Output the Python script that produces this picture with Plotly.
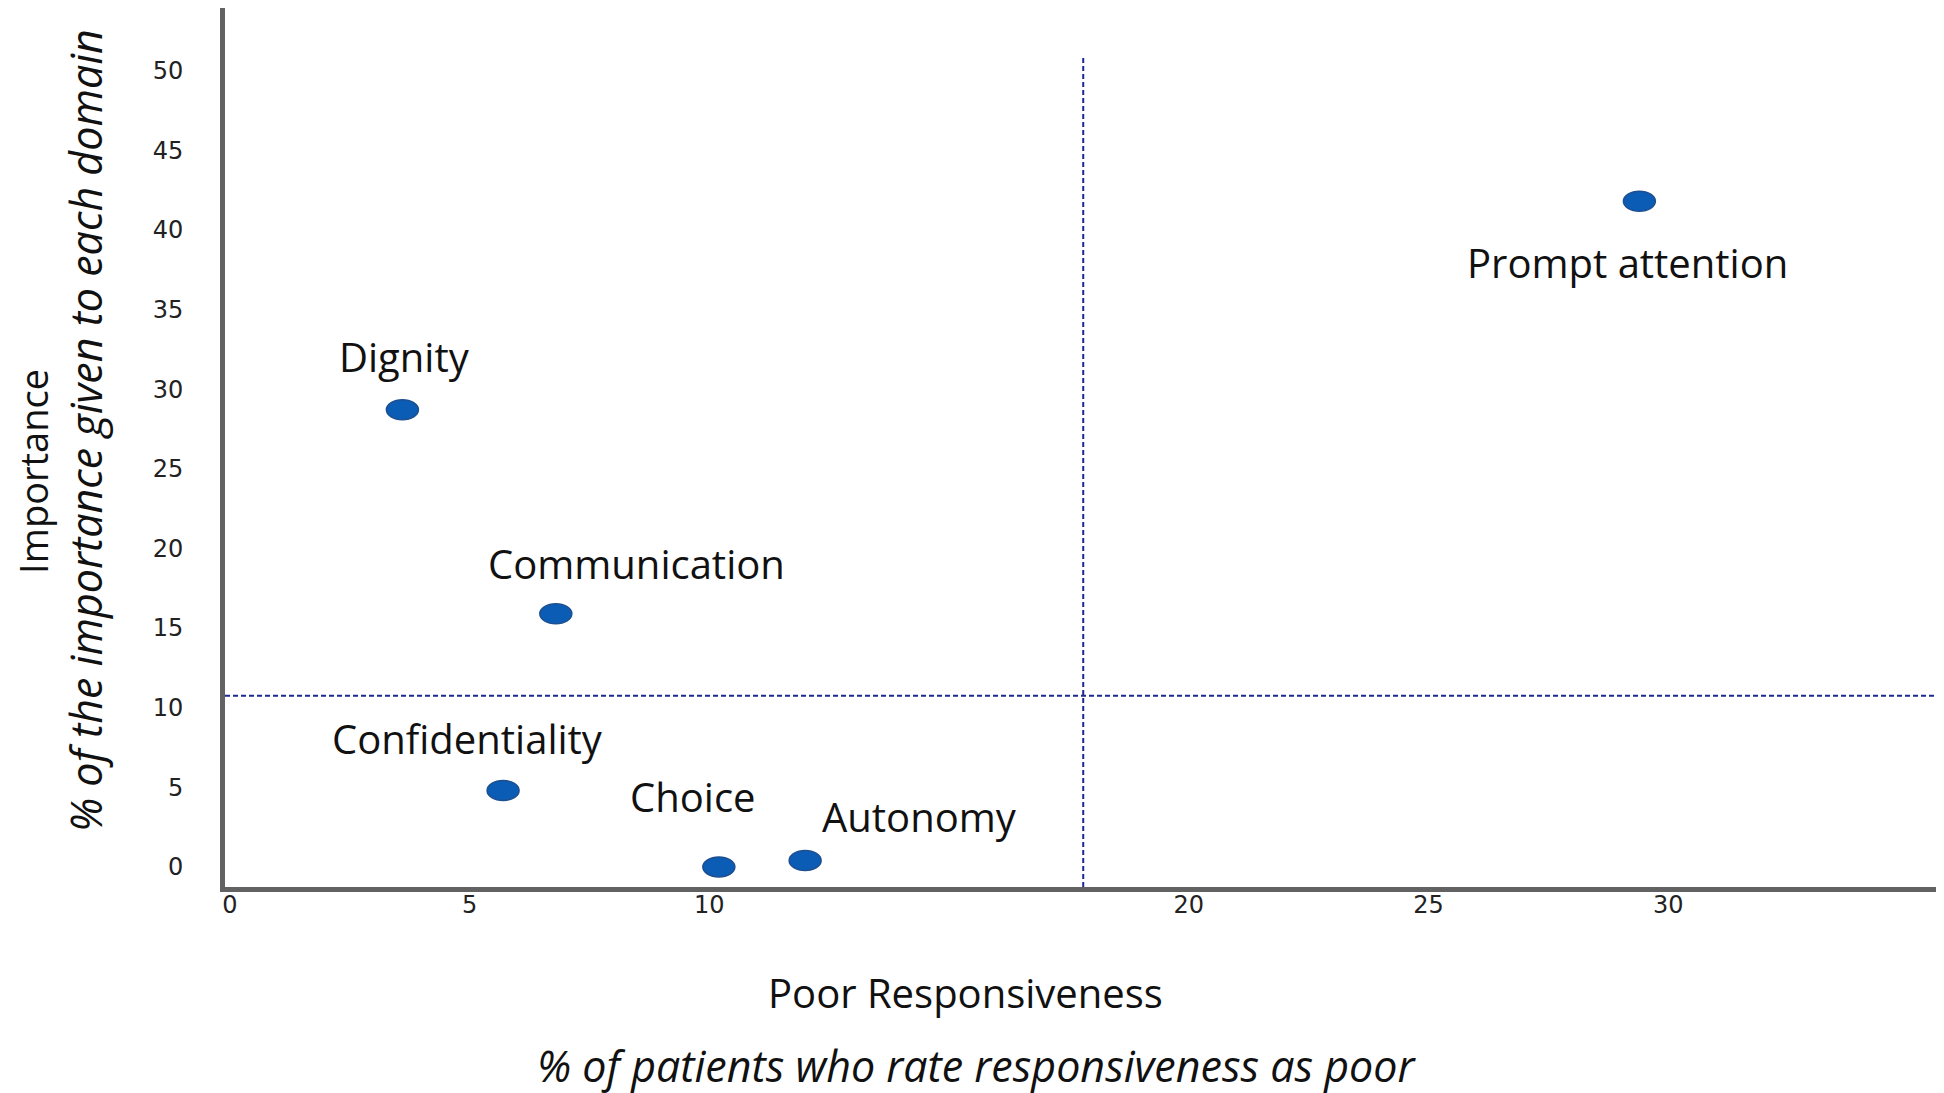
import plotly.graph_objects as go

# ---- data ----
domains = ["Dignity", "Communication", "Confidentiality", "Choice", "Autonomy", "Prompt attention"]
poor_responsiveness = [3.6, 6.8, 5.7, 10.2, 12.0, 29.4]   # % of patients rating responsiveness as poor
importance = [28.7, 15.9, 4.8, 0.0, 0.4, 41.8]             # % of importance given to each domain
x_tick_values = [0, 5, 10, 20, 25, 30]
y_tick_values = [0, 5, 10, 15, 20, 25, 30, 35, 40, 45, 50]
x_threshold = 17.8
y_threshold = 10.75
v_line_top = 50.9

# ---- style ----
label_shift_x = [2, 81, -36, -26, 114, -12]
label_shift_y = [53, 50, 52, 70, 44, -61]
x_range = [-0.1, 35.67]
y_range = [-1.26, 53.93]
point_color = "#0B5CB5"
line_color = "#1C2A8C"
axis_color = "#626262"
label_font = "Open Sans"

fig = go.Figure()
fig.add_trace(go.Scatter(
    x=poor_responsiveness, y=importance, mode="markers",
    marker=dict(size=20, color=point_color, line=dict(width=0)),
    hoverinfo="text", text=domains, showlegend=False,
))

# ellipse-shaped markers anchored to the data points
for xv, yv in zip(poor_responsiveness, importance):
    fig.add_shape(type="circle", xref="x", yref="y",
                  xsizemode="pixel", ysizemode="pixel",
                  xanchor=xv, yanchor=yv, x0=-16, x1=16, y0=-10, y1=10,
                  fillcolor=point_color, line=dict(color="#1E4F90", width=1.5))

# threshold lines
fig.add_shape(type="line", xref="x", yref="y", x0=x_threshold, x1=x_threshold,
              y0=y_range[0], y1=v_line_top,
              line=dict(color=line_color, width=2, dash="5px,3px"))
fig.add_shape(type="line", xref="x", yref="y", x0=x_range[0], x1=x_range[1],
              y0=y_threshold, y1=y_threshold,
              line=dict(color=line_color, width=2, dash="5px,3px"))

# point labels
for name, xv, yv, dx, dy in zip(domains, poor_responsiveness, importance, label_shift_x, label_shift_y):
    fig.add_annotation(x=xv, y=yv, xref="x", yref="y", text=name, showarrow=False,
                       xshift=dx, yshift=dy, xanchor="center", yanchor="middle",
                       font=dict(family=label_font, size=40, color="#111111"))

# axis titles
title_font = dict(family=label_font, size=40, color="#111111")
y_title_font = dict(family=label_font, size=38, color="#111111")
italic_font = dict(family=label_font, size=43, color="#111111")
fig.add_annotation(xref="paper", yref="paper", x=0.4315, y=-0.1195, text="Poor Responsiveness",
                   showarrow=False, xanchor="center", yanchor="middle", font=title_font)
fig.add_annotation(xref="paper", yref="paper", x=0.438, y=-0.2036,
                   text="<i>% of patients who rate responsiveness as poor</i>",
                   showarrow=False, xanchor="center", yanchor="middle", font=italic_font)
fig.add_annotation(xref="paper", yref="paper", x=-0.1120, y=0.4733, text="Importance",
                   textangle=-90, showarrow=False, xanchor="center", yanchor="middle",
                   font=y_title_font)
fig.add_annotation(xref="paper", yref="paper", x=-0.0810, y=0.5188,
                   text="<i>% of the importance given to each domain</i>",
                   textangle=-90, showarrow=False, xanchor="center", yanchor="middle",
                   font=italic_font)

fig.update_layout(
    width=1944, height=1093,
    margin=dict(l=217, r=12, t=0, b=214),
    paper_bgcolor="white", plot_bgcolor="white",
    xaxis=dict(range=x_range, tickvals=x_tick_values, ticktext=[str(v) for v in x_tick_values],
               showgrid=False, zeroline=False, showline=True, linecolor=axis_color, linewidth=5,
               ticks="", ticklabelstandoff=-8,
               tickfont=dict(family="DejaVu Sans", size=24, color="#222222")),
    yaxis=dict(range=y_range, tickvals=y_tick_values, ticktext=[str(v) for v in y_tick_values],
               showgrid=False, zeroline=False, showline=True, linecolor=axis_color, linewidth=5,
               ticks="", ticklabelstandoff=32,
               tickfont=dict(family="DejaVu Sans", size=24, color="#222222")),
)

fig.write_html("out.html")
